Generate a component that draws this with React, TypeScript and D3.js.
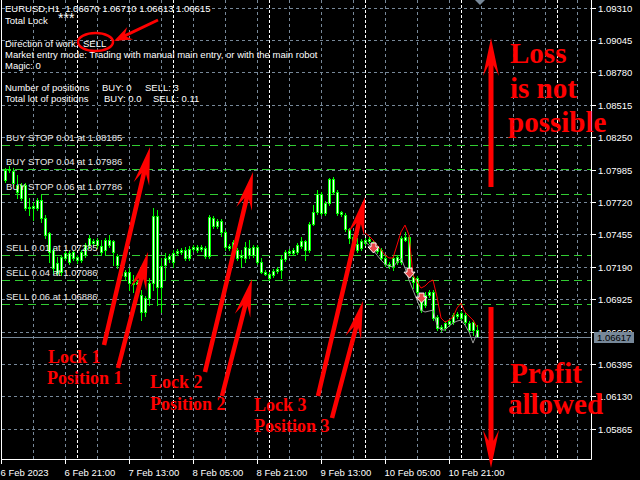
import { useEffect, useRef } from "react"
import * as d3 from "d3"

// Hourly EURUSD bars, bar 0 = 6 Feb 06:00
const barOpen = [
  1.079, 1.07989, 1.07973, 1.07859, 1.07753, 1.07859, 1.07679, 1.07671, 1.07671, 1.07736,
  1.07589, 1.07466, 1.07327, 1.0722, 1.07147, 1.07262, 1.07302, 1.07262, 1.0727, 1.07245,
  1.07286, 1.07368, 1.07401, 1.07409, 1.0736, 1.07327, 1.07368, 1.07401, 1.07278, 1.07204,
  1.07114, 1.07147, 1.07057, 1.07049, 1.06959, 1.0682, 1.06934, 1.07057, 1.07605, 1.07025,
  1.07204, 1.07253, 1.07229, 1.07302, 1.07311, 1.07327, 1.07262, 1.07335, 1.07352, 1.07335,
  1.07344, 1.07278, 1.07589, 1.07523, 1.07564, 1.07475, 1.0736, 1.07344, 1.07327, 1.0727,
  1.07262, 1.07344, 1.07286, 1.07352, 1.07229, 1.07147, 1.0713, 1.07122, 1.07155, 1.07163,
  1.07253, 1.07302, 1.07302, 1.07311, 1.0736, 1.07401, 1.07327, 1.07539, 1.07638, 1.07785,
  1.0763, 1.07711, 1.07908, 1.07802, 1.07638, 1.07613, 1.07499, 1.07434, 1.07376, 1.07344,
  1.07384, 1.07401, 1.07393, 1.07352, 1.07327, 1.07262, 1.07212, 1.07188, 1.07229, 1.07229,
  1.07409, 1.07434, 1.07106, 1.07098, 1.06943, 1.06877, 1.06959, 1.06984, 1.06779, 1.06697,
  1.06689, 1.06721, 1.06738, 1.06787, 1.06771, 1.06795, 1.0673, 1.06673, 1.0667,
]
const barHigh = [
  1.07998, 1.08014, 1.07998, 1.0794, 1.07875, 1.07875, 1.07753, 1.0772, 1.07753, 1.07777,
  1.07613, 1.07475, 1.07344, 1.0727, 1.07286, 1.07327, 1.07319, 1.07327, 1.07286, 1.07327,
  1.07384, 1.0745, 1.07417, 1.07426, 1.07409, 1.07426, 1.0745, 1.07409, 1.07294, 1.07229,
  1.07163, 1.0718, 1.07122, 1.07082, 1.07, 1.06951, 1.07098, 1.07671, 1.07654, 1.07262,
  1.07302, 1.07294, 1.07327, 1.07335, 1.07344, 1.07352, 1.0736, 1.07368, 1.07368, 1.07368,
  1.0736, 1.07613, 1.07605, 1.0758, 1.0758, 1.07491, 1.07376, 1.07409, 1.07344, 1.07327,
  1.07393, 1.07409, 1.07368, 1.07368, 1.07262, 1.07163, 1.07147, 1.07171, 1.07188, 1.07286,
  1.07327, 1.07335, 1.07344, 1.07384, 1.07434, 1.07409, 1.07556, 1.07695, 1.07818, 1.07802,
  1.07728, 1.07916, 1.07924, 1.07818, 1.07646, 1.0763, 1.07507, 1.0745, 1.07426, 1.07417,
  1.07426, 1.07434, 1.07409, 1.07368, 1.07344, 1.07278, 1.07229, 1.07278, 1.07286, 1.07442,
  1.07475, 1.0745, 1.07147, 1.07114, 1.06959, 1.06984, 1.07, 1.07, 1.06795, 1.06713,
  1.06746, 1.06762, 1.06811, 1.0682, 1.06828, 1.06811, 1.06746, 1.06754, 1.0671,
]
const barLow = [
  1.07884, 1.07965, 1.07851, 1.07753, 1.07736, 1.07654, 1.07613, 1.07572, 1.07654, 1.07556,
  1.07426, 1.07229, 1.07138, 1.07122, 1.07122, 1.07245, 1.07212, 1.07245, 1.0722, 1.07229,
  1.0727, 1.07344, 1.0736, 1.07344, 1.07286, 1.07286, 1.07352, 1.07204, 1.0718, 1.07106,
  1.07082, 1.07, 1.06984, 1.07016, 1.06754, 1.06787, 1.06877, 1.07, 1.06877, 1.0682,
  1.07082, 1.07229, 1.07188, 1.07286, 1.07294, 1.07245, 1.07245, 1.07319, 1.07311, 1.07319,
  1.07262, 1.07262, 1.07507, 1.07507, 1.07442, 1.07327, 1.07327, 1.07327, 1.07245, 1.07188,
  1.07229, 1.07262, 1.0727, 1.07212, 1.07138, 1.07122, 1.07082, 1.07106, 1.07138, 1.07098,
  1.07237, 1.07286, 1.07286, 1.07294, 1.07344, 1.07245, 1.07311, 1.07531, 1.07621, 1.07613,
  1.07613, 1.07695, 1.07793, 1.07613, 1.07605, 1.07483, 1.07384, 1.07368, 1.07311, 1.07327,
  1.07368, 1.07384, 1.07327, 1.07302, 1.07245, 1.07196, 1.0718, 1.07163, 1.07212, 1.07212,
  1.07401, 1.07122, 1.07016, 1.06967, 1.0682, 1.06861, 1.06943, 1.06754, 1.06673, 1.06665,
  1.06673, 1.06705, 1.06721, 1.06771, 1.06754, 1.06721, 1.06656, 1.06632, 1.06613,
]
const barClose = [
  1.07981, 1.07981, 1.07875, 1.07802, 1.07859, 1.07671, 1.07671, 1.07687, 1.07736, 1.07589,
  1.0745, 1.07311, 1.0718, 1.07138, 1.0727, 1.07302, 1.07229, 1.07311, 1.07245, 1.07311,
  1.07368, 1.07426, 1.07384, 1.07368, 1.07311, 1.07409, 1.07409, 1.07311, 1.07204, 1.07122,
  1.07147, 1.07057, 1.07049, 1.07066, 1.0682, 1.06934, 1.07057, 1.07605, 1.07025, 1.07196,
  1.07262, 1.07278, 1.07302, 1.07319, 1.07327, 1.07262, 1.07335, 1.07352, 1.07327, 1.07352,
  1.07278, 1.07597, 1.07523, 1.07564, 1.07475, 1.07352, 1.07344, 1.07393, 1.07262, 1.07286,
  1.07352, 1.07286, 1.07352, 1.07229, 1.07147, 1.0713, 1.07098, 1.07155, 1.07171, 1.07253,
  1.07311, 1.07319, 1.07327, 1.07368, 1.07401, 1.07327, 1.07539, 1.07638, 1.07785, 1.0763,
  1.07711, 1.07908, 1.07802, 1.0763, 1.07621, 1.07499, 1.07426, 1.07384, 1.07327, 1.07401,
  1.07409, 1.07417, 1.07344, 1.07319, 1.07262, 1.07212, 1.07196, 1.07262, 1.0727, 1.07426,
  1.07434, 1.07147, 1.07066, 1.06984, 1.06836, 1.06959, 1.06984, 1.06771, 1.06689, 1.06681,
  1.0673, 1.06746, 1.06795, 1.06803, 1.06811, 1.06738, 1.06673, 1.06738, 1.06615,
]

// envelope indicator, starts at bar 90
const bandStart = 90
const upperBand = [
  1.07466, 1.07442, 1.07409, 1.07368, 1.07327, 1.07286, 1.07262, 1.07262, 1.07368, 1.07475,
  1.07531, 1.0745, 1.07122, 1.07066, 1.07016, 1.07033, 1.07066, 1.07082, 1.06943, 1.06771,
  1.06738, 1.06754, 1.06779, 1.06853, 1.06893, 1.0682, 1.06787, 1.06754, 1.06697,
]
const lowerBand = [
  1.07393, 1.07368, 1.07327, 1.07286, 1.07245, 1.07212, 1.07196, 1.07188, 1.07229, 1.07262,
  1.0718, 1.07082, 1.07, 1.06918, 1.06836, 1.0682, 1.06828, 1.06836, 1.06713, 1.06673,
  1.06673, 1.06705, 1.0673, 1.06746, 1.06754, 1.06713, 1.06656, 1.06566, 1.06648,
]

const sellBars = [92, 101, 104]
const sellPrices = [1.07344, 1.07138, 1.06934]

const orderLabels = [
  "BUY STOP 0.01 at 1.08185",
  "BUY STOP 0.04 at 1.07986",
  "BUY STOP 0.06 at 1.07786",
  "SELL 0.01 at 1.07285",
  "SELL 0.04 at 1.07086",
  "SELL 0.06 at 1.06886",
]
const orderPrices = [1.08185, 1.07986, 1.07786, 1.07285, 1.07086, 1.06886]

const bidPrice = 1.06617

const priceTicks = [
  1.0931, 1.09045, 1.0878, 1.08515, 1.0825, 1.07985, 1.0772, 1.07455, 1.0719, 1.06925,
  1.0666, 1.06395, 1.0613, 1.05865,
]
const timeLabels = [
  "6 Feb 2023", "6 Feb 21:00", "7 Feb 13:00", "8 Feb 05:00", "8 Feb 21:00",
  "9 Feb 13:00", "10 Feb 05:00", "10 Feb 21:00",
]
const timeLabelBars = [-1, 15, 31, 47, 63, 79, 95, 111]
const daySeparatorBars = [18, 42, 66, 90, 114, 138]

// arrows drawn from the lock labels to the order lines
const lockArrowFromBar = [24.75, 28.25, 50, 54.25, 78.25, 81.75]
const lockArrowFromPrice = [1.0655, 1.06362, 1.06329, 1.06133, 1.06133, 1.05953]
const lockArrowToBar = [36.25, 35.75, 62, 61.75, 90, 89.5]
const lockArrowToPrice = [1.0817, 1.07311, 1.07965, 1.0709, 1.07761, 1.0691]

const infoLines = [
  { x: 5, y: 12, t: "EURUSD,H1  1.06670 1.06710 1.06613 1.06615" },
  { x: 5, y: 24, t: "Total Lock" },
  { x: 58, y: 23, t: "***", s: 14 },
  { x: 5, y: 47, t: "Direction of work:" },
  { x: 83, y: 47, t: "SELL" },
  { x: 5, y: 58, t: "Market entry mode: Trading with manual main entry, or with the main robot" },
  { x: 5, y: 69, t: "Magic: 0" },
  { x: 5, y: 91, t: "Number of positions" },
  { x: 102, y: 91, t: "BUY: 0" },
  { x: 145, y: 91, t: "SELL: 3" },
  { x: 5, y: 102, t: "Total lot of positions" },
  { x: 104, y: 102, t: "BUY: 0.0" },
  { x: 153, y: 102, t: "SELL: 0.11" },
]

const UI_FONT = "'Liberation Sans', Arial, sans-serif"
const RED_FONT = "'Liberation Serif', 'Times New Roman', serif"
const GRID = "#778899"
const LIME = "#00ff00"
const ORDER_GREEN = "#32cd32"
const RED = "#ff0000"

function arrowPoints(x1: number, y1: number, x2: number, y2: number, shaft: number, headLen: number, headW: number) {
  const len = Math.hypot(x2 - x1, y2 - y1)
  const ux = (x2 - x1) / len
  const uy = (y2 - y1) / len
  const nx = -uy
  const ny = ux
  const bx = x2 - ux * headLen
  const by = y2 - uy * headLen
  const kx = x2 - ux * headLen * 0.72
  const ky = y2 - uy * headLen * 0.72
  const s = shaft / 2
  const pts = [
    [x2, y2],
    [bx + nx * headW, by + ny * headW],
    [kx + nx * s, ky + ny * s],
    [x1 + nx * s, y1 + ny * s],
    [x1 - nx * s, y1 - ny * s],
    [kx - nx * s, ky - ny * s],
    [bx - nx * headW, by - ny * headW],
  ]
  return pts.map((p) => p.join(",")).join(" ")
}

export default function App() {
  const svgRef = useRef<SVGSVGElement>(null)

  useEffect(() => {
    if (!svgRef.current) return
    d3.select(svgRef.current).selectAll("*").remove()

    const svg = d3.select(svgRef.current)
    const plotRight = 591
    const plotBottom = 459

    const x = d3.scaleLinear().domain([-1, 159]).range([1, 641])
    const y = d3.scaleLinear().domain([1.09372, 1.05618]).range([0, 459])
    const px = (v: number) => Math.round(v) + 0.5

    svg.append("rect").attr("width", 640).attr("height", 480).attr("fill", "#000")

    svg.append("defs").append("clipPath").attr("id", "plot")
      .append("rect").attr("x", 2).attr("y", 0).attr("width", plotRight - 2).attr("height", plotBottom)

    const plot = svg.append("g").attr("clip-path", "url(#plot)")

    // grid
    priceTicks.forEach((p) => {
      plot.append("line")
        .attr("x1", 2).attr("x2", plotRight)
        .attr("y1", px(y(p))).attr("y2", px(y(p)))
        .attr("stroke", GRID).attr("stroke-dasharray", "3,3")
    })
    d3.range(7, 150, 8).forEach((b) => {
      plot.append("line")
        .attr("x1", px(x(b))).attr("x2", px(x(b)))
        .attr("y1", 0).attr("y2", plotBottom)
        .attr("stroke", GRID).attr("stroke-dasharray", "3,3")
    })
    daySeparatorBars.forEach((b) => {
      plot.append("line")
        .attr("x1", px(x(b))).attr("x2", px(x(b)))
        .attr("y1", 0).attr("y2", plotBottom)
        .attr("stroke", "#fff").attr("stroke-dasharray", "3,2")
    })

    // order lines
    orderPrices.forEach((p) => {
      plot.append("line")
        .attr("x1", 2).attr("x2", plotRight)
        .attr("y1", px(y(p))).attr("y2", px(y(p)))
        .attr("stroke", ORDER_GREEN).attr("stroke-dasharray", "8,5")
    })

    // candles
    barOpen.forEach((o, i) => {
      const cx = Math.round(x(i))
      const c = barClose[i]
      plot.append("line")
        .attr("x1", cx + 0.5).attr("x2", cx + 0.5)
        .attr("y1", Math.round(y(barHigh[i]))).attr("y2", Math.round(y(barLow[i])) + 1)
        .attr("stroke", LIME)
      const top = Math.round(y(Math.max(o, c)))
      const bot = Math.round(y(Math.min(o, c)))
      if (bot - top < 2) {
        plot.append("rect").attr("x", cx - 1).attr("y", top).attr("width", 3).attr("height", Math.max(1, bot - top + 1)).attr("fill", LIME)
      } else {
        plot.append("rect")
          .attr("x", cx - 0.5).attr("y", top + 0.5)
          .attr("width", 2).attr("height", bot - top)
          .attr("fill", "#f4fff4").attr("stroke", LIME)
      }
    })

    // envelope lines
    const band = d3.line<number>().x((_, k) => x(bandStart + k)).y((d) => y(d))
    plot.append("path").attr("d", band(lowerBand)).attr("fill", "none").attr("stroke", "#9a9a9a")
    plot.append("path").attr("d", band(upperBand)).attr("fill", "none").attr("stroke", RED)

    // bid line
    plot.append("line")
      .attr("x1", 2).attr("x2", plotRight)
      .attr("y1", px(y(bidPrice))).attr("y2", px(y(bidPrice)))
      .attr("stroke", GRID)

    // sell markers
    sellBars.forEach((b, k) => {
      const cx = x(b) + 0.5
      const cy = y(sellPrices[k])
      plot.append("polygon")
        .attr("points", [
          [cx - 2.5, cy - 5], [cx + 2.5, cy - 5], [cx + 2.5, cy - 1], [cx + 5.5, cy - 1],
          [cx, cy + 5], [cx - 5.5, cy - 1], [cx - 2.5, cy - 1],
        ].map((p) => p.join(",")).join(" "))
        .attr("fill", "#e8484a").attr("stroke", "#fff").attr("stroke-width", 1)
    })

    // order labels
    orderPrices.forEach((p, k) => {
      plot.append("text")
        .attr("x", 6).attr("y", Math.round(y(p)) - 4)
        .attr("fill", "#e8e8e8").style("font", `9.5px ${UI_FONT}`)
        .text(orderLabels[k])
    })

    // info panel
    infoLines.forEach((l) => {
      svg.append("text").attr("x", l.x).attr("y", l.y)
        .attr("fill", "#fff").style("font", `${l.s ?? 9.5}px ${UI_FONT}`)
        .style("white-space", "pre")
        .text(l.t)
    })

    // frame
    svg.append("path")
      .attr("d", `M1.5,0 V${plotBottom + 0.5} H${plotRight + 0.5} V0`)
      .attr("fill", "none").attr("stroke", "#fff")

    // price axis
    priceTicks.forEach((p) => {
      const yy = px(y(p))
      svg.append("line").attr("x1", plotRight).attr("x2", plotRight + 5).attr("y1", yy).attr("y2", yy).attr("stroke", "#fff")
      svg.append("text").attr("x", 598).attr("y", yy + 3.5)
        .attr("fill", "#fff").style("font", `9.5px ${UI_FONT}`)
        .text(p.toFixed(5))
    })
    const by = px(y(bidPrice))
    svg.append("rect").attr("x", 594).attr("y", by - 5.5).attr("width", 40).attr("height", 11).attr("fill", GRID)
    svg.append("text").attr("x", 597).attr("y", by + 3.5)
      .attr("fill", "#000").style("font", `9.5px ${UI_FONT}`)
      .text(bidPrice.toFixed(5))

    // time axis
    timeLabelBars.forEach((b, k) => {
      const xx = px(x(b))
      svg.append("line").attr("x1", xx).attr("x2", xx).attr("y1", plotBottom).attr("y2", plotBottom + 5).attr("stroke", "#fff")
      svg.append("text").attr("x", xx - 1).attr("y", 476)
        .attr("fill", "#fff").style("font", `9.5px ${UI_FONT}`)
        .text(timeLabels[k])
    })

    // chart shift marker
    svg.append("polygon").attr("points", "475,0 485,0 480,5").attr("fill", GRID)

    // annotations
    const ann = svg.append("g")
    ann.append("ellipse").attr("cx", 95.5).attr("cy", 42).attr("rx", 17.5).attr("ry", 9)
      .attr("fill", "none").attr("stroke", RED).attr("stroke-width", 2.5)
    ann.append("polygon").attr("points", arrowPoints(158, 20, 114, 41, 3, 18, 7)).attr("fill", RED)

    lockArrowFromBar.forEach((fb, k) => {
      ann.append("polygon")
        .attr("points", arrowPoints(
          x(fb), y(lockArrowFromPrice[k]), x(lockArrowToBar[k]), y(lockArrowToPrice[k]), 4.5, 38, 8,
        ))
        .attr("fill", RED)
    })

    ann.append("polygon").attr("points", arrowPoints(491, 187, 491, 38, 5, 38, 8)).attr("fill", RED)
    ann.append("polygon").attr("points", arrowPoints(491, 307, 491, 468, 5, 38, 8)).attr("fill", RED)

    const redText = [
      { x: 48, y: 363, t: "Lock 1", s: 18 },
      { x: 47, y: 384, t: "Position 1", s: 18 },
      { x: 150, y: 388, t: "Lock 2", s: 18 },
      { x: 150, y: 410, t: "Position 2", s: 18 },
      { x: 254, y: 411, t: "Lock 3", s: 18 },
      { x: 254, y: 432, t: "Position 3", s: 18 },
      { x: 510, y: 63, t: "Loss", s: 29 },
      { x: 510, y: 98, t: "is not", s: 29 },
      { x: 508, y: 132, t: "possible", s: 29 },
      { x: 510, y: 383, t: "Profit", s: 29 },
      { x: 508, y: 414, t: "allowed", s: 29 },
    ]
    redText.forEach((r) => {
      ann.append("text").attr("x", r.x).attr("y", r.y)
        .attr("fill", RED).style("font", `bold ${r.s}px ${RED_FONT}`)
        .text(r.t)
    })
  }, [])

  return (
    <div style={{ position: "absolute", left: 0, top: 0 }}>
      <svg ref={svgRef} width={640} height={480} style={{ display: "block" }} />
    </div>
  )
}
